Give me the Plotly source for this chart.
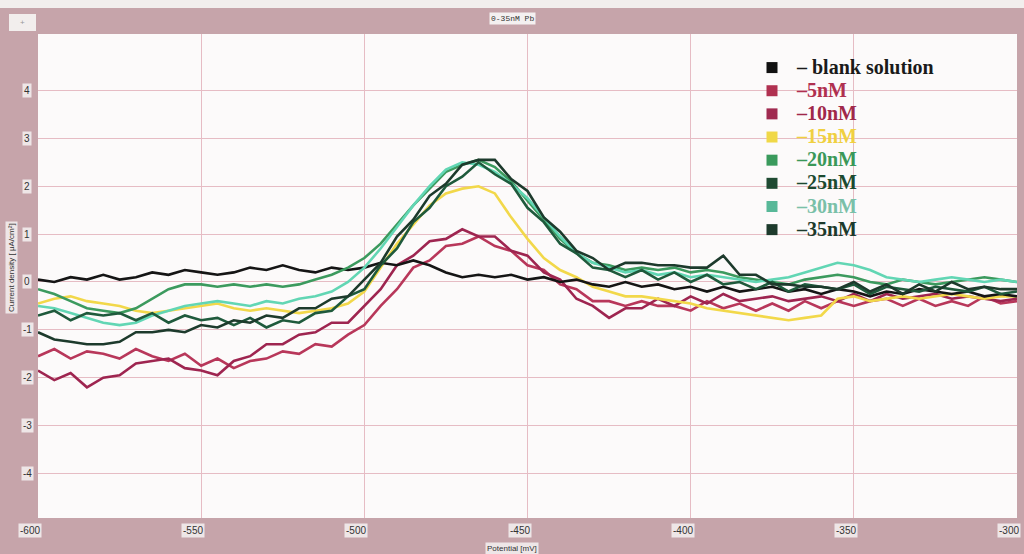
import plotly.graph_objects as go

potential = list(range(-600, -295, 5))

blank = [0.05, 0.0, 0.1, 0.05, 0.15, 0.05, 0.1, 0.2, 0.15, 0.25,
         0.2, 0.15, 0.2, 0.3, 0.25, 0.35, 0.25, 0.2, 0.3, 0.25,
         0.3, 0.4, 0.35, 0.45, 0.35, 0.2, 0.1, 0.15, 0.1, 0.15,
         0.05, 0.1, 0.0, 0.05, -0.05, -0.1, 0.0, -0.1, -0.05, -0.15,
         -0.1, -0.2, -0.1, -0.2, -0.15, -0.1, -0.2, -0.15, -0.25, -0.15,
         -0.2, -0.3, -0.2, -0.25, -0.15, -0.2, -0.25, -0.2, -0.3, -0.25,
         -0.3]
nm5 = [-1.55, -1.4, -1.6, -1.45, -1.5, -1.6, -1.4, -1.55, -1.65, -1.5,
       -1.75, -1.6, -1.8, -1.65, -1.6, -1.45, -1.5, -1.3, -1.35, -1.1,
       -0.9, -0.5, -0.15, 0.3, 0.45, 0.75, 0.8, 0.95, 0.75, 0.65,
       0.35, 0.25, -0.05, -0.15, -0.4, -0.4, -0.5, -0.4, -0.5, -0.5,
       -0.6, -0.4, -0.55, -0.45, -0.6, -0.45, -0.6, -0.4, -0.55, -0.4,
       -0.5, -0.4, -0.35, -0.5, -0.35, -0.5, -0.4, -0.5, -0.3, -0.45,
       -0.4]
nm10 = [-1.85, -2.05, -1.9, -2.2, -2.0, -1.95, -1.7, -1.65, -1.6, -1.8,
        -1.85, -1.95, -1.65, -1.55, -1.3, -1.3, -1.1, -1.05, -0.85, -0.85,
        -0.5, -0.15, 0.35, 0.55, 0.85, 0.9, 1.1, 0.95, 0.95, 0.65,
        0.55, 0.2, 0.05, -0.35, -0.5, -0.75, -0.55, -0.55, -0.35, -0.5,
        -0.3, -0.45, -0.25, -0.4, -0.35, -0.3, -0.4, -0.35, -0.3, -0.4,
        -0.25, -0.4, -0.25, -0.35, -0.3, -0.25, -0.35, -0.3, -0.35, -0.4,
        -0.35]
nm15 = [-0.45, -0.35, -0.3, -0.4, -0.45, -0.5, -0.6, -0.65, -0.6, -0.55,
        -0.5, -0.45, -0.55, -0.6, -0.55, -0.6, -0.65, -0.6, -0.55, -0.45,
        -0.2, 0.3, 0.8, 1.2, 1.6, 1.85, 1.95, 2.0, 1.85, 1.35,
        0.9, 0.5, 0.25, 0.1, -0.1, -0.2, -0.3, -0.3, -0.35, -0.4,
        -0.45, -0.55, -0.6, -0.65, -0.7, -0.75, -0.8, -0.75, -0.7, -0.35,
        -0.3, -0.4, -0.35, -0.3, -0.35, -0.3, -0.25, -0.3, -0.35, -0.3,
        -0.3]
nm20 = [-0.15, -0.25, -0.4, -0.55, -0.6, -0.65, -0.55, -0.35, -0.15, -0.05,
        -0.05, -0.1, -0.05, -0.1, -0.05, -0.1, -0.05, 0.05, 0.15, 0.3,
        0.5, 0.8, 1.2, 1.6, 1.95, 2.3, 2.45, 2.55, 2.4, 2.1,
        1.7, 1.3, 0.9, 0.6, 0.4, 0.35, 0.25, 0.3, 0.25, 0.3,
        0.2, 0.25, 0.2, 0.1, 0.05, 0.0, -0.05, 0.05, 0.1, 0.15,
        0.1, 0.0, -0.05, 0.05, 0.0, -0.05, 0.0, 0.05, 0.1, 0.05,
        0.0]
nm25 = [-0.7, -0.6, -0.8, -0.65, -0.7, -0.65, -0.8, -0.65, -0.85, -0.7,
        -0.8, -0.75, -0.9, -0.75, -0.95, -0.8, -0.85, -0.65, -0.6, -0.3,
        -0.15, 0.35, 0.7, 1.25, 1.55, 2.0, 2.2, 2.5, 2.25, 2.05,
        1.55, 1.25, 0.8, 0.6, 0.3, 0.25, 0.1, 0.25, 0.05, 0.2,
        0.0, 0.15, -0.05, 0.0, -0.15, 0.0, -0.2, -0.05, -0.1, -0.15,
        -0.05, -0.25, -0.1, -0.15, -0.2, -0.1, -0.15, -0.2, -0.1, -0.25,
        -0.2]
nm30 = [-0.5, -0.55, -0.65, -0.75, -0.85, -0.9, -0.85, -0.7, -0.6, -0.5,
        -0.45, -0.4, -0.45, -0.5, -0.4, -0.45, -0.35, -0.3, -0.2, 0.0,
        0.3, 0.7, 1.15, 1.6, 2.0, 2.35, 2.5, 2.45, 2.3, 2.05,
        1.75, 1.35, 0.95, 0.6, 0.4, 0.3, 0.2, 0.25, 0.15, 0.2,
        0.1, 0.15, 0.1, 0.05, 0.0, 0.05, 0.1, 0.2, 0.3, 0.4,
        0.35, 0.25, 0.1, 0.05, 0.0, 0.05, 0.1, 0.05, 0.0, 0.05,
        0.0]
nm35 = [-1.05, -1.2, -1.25, -1.3, -1.3, -1.25, -1.05, -1.05, -1.0, -1.05,
        -0.9, -0.95, -0.8, -0.85, -0.7, -0.75, -0.55, -0.55, -0.35, -0.3,
        0.05, 0.4, 0.95, 1.3, 1.8, 2.05, 2.45, 2.55, 2.55, 2.15,
        1.9, 1.35, 1.05, 0.65, 0.5, 0.25, 0.4, 0.4, 0.35, 0.35,
        0.3, 0.3, 0.55, 0.15, 0.15, -0.05, -0.05, -0.1, -0.1, -0.15,
        0.0, -0.2, -0.05, -0.25, -0.05, -0.2, 0.0, -0.15, -0.1, -0.15,
        -0.15]

series_names = ["– blank solution", "–5nM", "–10nM", "–15nM", "–20nM", "–25nM", "–30nM", "–35nM"]
series_values = [blank, nm5, nm10, nm15, nm20, nm25, nm30, nm35]
line_colors = ["#151515", "#b8375a", "#9e2550", "#f2d84a", "#3c9a5e", "#1f5a3c", "#62d6b4", "#1d3a2c"]
marker_colors = ["#111111", "#b03050", "#a02a50", "#f0d848", "#3a9a5c", "#1f4a32", "#58b898", "#1d3a2c"]
text_colors = ["#1a1a1a", "#b03050", "#a0284a", "#f0d040", "#3a9858", "#1c4a30", "#7ac0a8", "#1c3a2c"]

x_ticks = [-600, -550, -500, -450, -400, -350, -300]
y_ticks = [-4, -3, -2, -1, 0, 1, 2, 3, 4]

fig = go.Figure()
draw_order = [1, 2, 3, 0, 4, 6, 5, 7]
for i in draw_order:
    fig.add_trace(go.Scatter(x=potential, y=series_values[i], mode="lines",
                             line=dict(color=line_colors[i], width=2.6),
                             showlegend=False, hoverinfo="skip"))
for i, name in enumerate(series_names):
    fig.add_trace(go.Scatter(x=[None], y=[None], mode="markers",
                             marker=dict(symbol="square", size=11, color=marker_colors[i]),
                             name=f"<b><span style='color:{text_colors[i]};font-size:20px'>\u00a0{name}</span></b>"))

W, H = 1024, 554
L, R, T, B = 38, 7, 34, 36
pw, ph = W - L - R, H - T - B

def px(x):
    return (x - L) / pw

def py(y):
    return (H - B - y) / ph

annotations = []
for v in y_ticks:
    annotations.append(dict(x=px(27), y=v, xref="paper", yref="y", text=str(v),
                            showarrow=False, xanchor="center", yanchor="middle",
                            font=dict(family="Liberation Sans", size=10, color="#333333"),
                            bgcolor="#eee6e7", borderpad=1))
for v in x_ticks:
    annotations.append(dict(x=v, y=py(530), xref="x", yref="paper", text=str(v),
                            showarrow=False, xanchor="center", yanchor="middle", xshift=-8,
                            font=dict(family="Liberation Sans", size=10, color="#333333"),
                            bgcolor="#eee6e7", borderpad=1))
annotations.append(dict(x=px(512), y=py(548), xref="paper", yref="paper", text="Potential [mV]",
                        showarrow=False, xanchor="center", yanchor="middle",
                        font=dict(family="Liberation Sans", size=8, color="#333333"),
                        bgcolor="#eee6e7", borderpad=1))
annotations.append(dict(x=px(11), y=py(268), xref="paper", yref="paper", text="Current density [ μA/cm²]",
                        showarrow=False, xanchor="center", yanchor="middle", textangle=-90,
                        font=dict(family="Liberation Sans", size=8, color="#333333"),
                        bgcolor="#eee6e7", borderpad=1))
annotations.append(dict(x=px(512), y=py(18), xref="paper", yref="paper", text="0-35nM Pb",
                        showarrow=False, xanchor="center", yanchor="middle",
                        font=dict(family="Liberation Mono", size=8, color="#333333"),
                        bgcolor="#f4f0f0", borderpad=1))
annotations.append(dict(x=px(22), y=py(22), xref="paper", yref="paper", text="+",
                        showarrow=False, xanchor="center", yanchor="middle",
                        font=dict(family="Liberation Sans", size=8, color="#999999")))

shapes = [
    dict(type="rect", xref="paper", yref="paper", x0=px(0), x1=px(W), y0=py(0), y1=py(8),
         fillcolor="#f2eeed", line=dict(width=0), layer="below"),
    dict(type="rect", xref="paper", yref="paper", x0=px(9), x1=px(36), y0=py(14), y1=py(31),
         fillcolor="#f2eeed", line=dict(width=0), layer="below"),
]

fig.update_layout(
    width=W, height=H,
    margin=dict(l=L, r=R, t=T, b=B, pad=0),
    paper_bgcolor="#c6a4aa",
    plot_bgcolor="#fcfafa",
    showlegend=True,
    legend=dict(x=px(752), y=py(51), xanchor="left", yanchor="top",
                bgcolor="rgba(0,0,0,0)", borderwidth=0, tracegroupgap=0,
                font=dict(family="Liberation Serif", size=15.5)),
    xaxis=dict(range=[-600, -300], tickvals=x_ticks, showticklabels=False,
               showgrid=True, gridcolor="#e6bcc4", gridwidth=1, zeroline=False,
               showline=False, ticks=""),
    yaxis=dict(range=[-4.93, 5.18], tickvals=y_ticks, showticklabels=False,
               showgrid=True, gridcolor="#e6bcc4", gridwidth=1, zeroline=False,
               showline=False, ticks=""),
    annotations=annotations,
    shapes=shapes,
)

fig.write_html("out.html")
